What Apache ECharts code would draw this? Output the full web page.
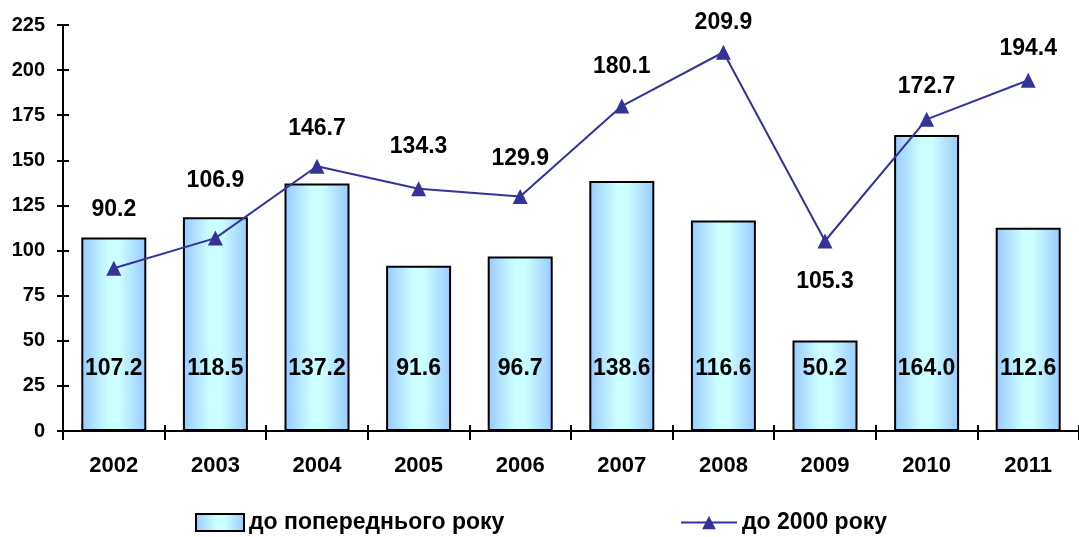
<!DOCTYPE html>
<html><head><meta charset="utf-8">
<script src="https://cdn.jsdelivr.net/npm/echarts@6/dist/echarts.min.js"></script>
<style>html,body{margin:0;padding:0;background:#fff}#c{width:1079px;height:537px}</style>
</head><body><div id="c"></div>
<script>
const categories = ['2002','2003','2004','2005','2006','2007','2008','2009','2010','2011'];
const prevYear = [107.2,118.5,137.2,91.6,96.7,138.6,116.6,50.2,164.0,112.6];
const to2000 = [90.2,106.9,146.7,134.3,129.9,180.1,209.9,105.3,172.7,194.4];
const yTicks = [0,25,50,75,100,125,150,175,200,225];

// label placement for line points (styling only)
const lineLabelPos = ['top','top','top','top','top','top','top','bottom','top','top'];
const lineLabelDist = [40,38,19,23,19,20,11,22,14,13];

const font = '"Liberation Sans", Arial, sans-serif';
const chart = echarts.init(document.getElementById('c'));
const barColor = new echarts.graphic.LinearGradient(0,0,1,0,[
  {offset:0,color:'#99c9ff'},{offset:0.42,color:'#ccffff'},{offset:0.58,color:'#ccffff'},{offset:1,color:'#99c9ff'}]);

chart.setOption({
  animation:false,
  backgroundColor:'#fff',
  grid:{left:63,top:25,bottom:106,right:-12,containLabel:false},
  legend:[{
    data:[{name:'до попереднього року',icon:'rect'}],
    left:195, top:511, itemWidth:48, itemHeight:17, itemGap:7, padding:0,
    textStyle:{fontFamily:font,fontWeight:'bold',fontSize:23,color:'#000'}
  },{
    data:[{name:'до 2000 року'}],
    left:680, top:511, itemWidth:56, itemHeight:17, itemGap:8, padding:0,
    textStyle:{fontFamily:font,fontWeight:'bold',fontSize:23,color:'#000'}
  }],
  xAxis:[{
    type:'category', data:categories, boundaryGap:true,
    axisLine:{lineStyle:{color:'#000',width:2}},
    axisTick:{show:true,length:9,lineStyle:{color:'#000',width:2}},
    axisLabel:{fontFamily:font,fontWeight:'bold',fontSize:22,color:'#000',margin:24}
  },{
    type:'category', data:categories, boundaryGap:true, position:'bottom',
    axisLine:{show:false},
    axisTick:{show:true,inside:true,length:6,lineStyle:{color:'#000',width:2}},
    axisLabel:{show:false}
  }],
  yAxis:[{
    type:'value', min:0, max:225, interval:25,
    splitLine:{show:false},
    axisLine:{show:true,lineStyle:{color:'#000',width:2}},
    axisTick:{show:true,length:6,lineStyle:{color:'#000',width:2}},
    axisLabel:{fontFamily:font,fontWeight:'bold',fontSize:20,color:'#000',margin:18,
      formatter:v=>yTicks.includes(v)?String(v):''}
  },{
    type:'value', min:0, max:225, interval:25, position:'left',
    splitLine:{show:false},
    axisLine:{show:false},
    axisTick:{show:true,inside:true,length:6,lineStyle:{color:'#000',width:2}},
    axisLabel:{show:false}
  }],
  series:[{
    name:'до попереднього року', type:'bar', data:prevYear, barWidth:65,
    itemStyle:{color:barColor,borderColor:'#000',borderWidth:2},
    label:{show:true,position:'insideBottom',distance:51,fontFamily:font,fontWeight:'bold',fontSize:23,color:'#000',
      formatter:p=>p.value.toFixed(1)}
  },{
    name:'до 2000 року', type:'line', data:to2000.map((v,i)=>({value:v,
      label:{position:lineLabelPos[i],distance:lineLabelDist[i]}})),
    symbol:'triangle', symbolSize:15,
    lineStyle:{color:'#333399',width:2},
    itemStyle:{color:'#333399'},
    label:{show:true,fontFamily:font,fontWeight:'bold',fontSize:23,color:'#000',
      formatter:p=>p.value.toFixed(1)}
  }]
});
</script></body></html>
